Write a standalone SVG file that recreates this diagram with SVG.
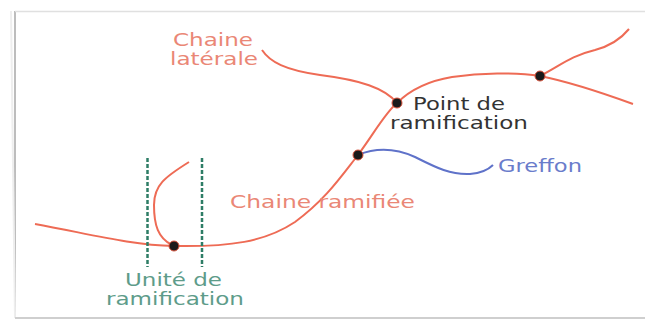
<svg xmlns="http://www.w3.org/2000/svg" width="645" height="320" viewBox="0 0 645 320">
<style>
text{font-family:"DejaVu Sans","Liberation Sans",sans-serif;font-size:17px}
.o{fill:#ea8776}
.k{fill:#333}
.b{fill:#6a7ccb}
.g{fill:#5e9c8a}
.ch{fill:none;stroke:#ee6b55;stroke-width:2}
.gr{fill:none;stroke:#5f72c9;stroke-width:2}
.ds{fill:none;stroke:#2e7d66;stroke-width:2.5;stroke-dasharray:4 2}
.dot{fill:#1a1a1a;stroke:#d8553f;stroke-width:1}
</style>
<rect x="0" y="0" width="645" height="320" fill="#fff"/>
<g id="frame">
<line x1="15" y1="11" x2="15" y2="318" stroke="#bdbdbd" stroke-width="2"/>
<line x1="11" y1="11" x2="15" y2="318" stroke="#eee" stroke-width="2"/>
<line x1="15" y1="11.5" x2="645" y2="11.5" stroke="#e0e0e0" stroke-width="1.5"/>
<line x1="15" y1="318" x2="645" y2="318" stroke="#cfcfcf" stroke-width="2"/>
</g>
<g id="connectors">
<path class="ch" d="M35,224 C90,234 130,245 174,246 C230,247 265,242 295,222 C325,200 340,178 358,155 C375,132 385,113 397,103 C407,93 422,82 452,77 C480,73 515,72 540,76"/>
<path class="ch" d="M540,76 C560,66 570,56 595,50 C610,46 620,40 629,29"/>
<path class="ch" d="M540,76 C570,82 600,92 633,104"/>
<path class="ch" d="M262,50 C270,62 285,70 320,75 C360,80 385,88 397,103"/>
<path class="ch" d="M172,245 C158,238 154,225 154,205 C154,185 165,177 189,162"/>
<path class="gr" d="M358,155 C375,148 395,148 415,157 C435,167 450,175 470,174 C482,173 488,170 493,165"/>
<line class="ds" x1="147.5" y1="158" x2="147.5" y2="267"/>
<line class="ds" x1="202" y1="158" x2="202" y2="267"/>
</g>
<g id="unit-point"><circle class="dot" cx="174" cy="246" r="5"/></g>
<g id="graft-point"><circle class="dot" cx="358" cy="155" r="5"/></g>
<g id="branch-point"><circle class="dot" cx="397" cy="103" r="5"/></g>
<g id="right-point"><circle class="dot" cx="540" cy="76" r="5"/></g>
<g id="label-side-chain">
<text class="o" x="173" y="46" textLength="80" lengthAdjust="spacingAndGlyphs">Chaine</text>
<text class="o" x="170" y="65" textLength="88" lengthAdjust="spacingAndGlyphs">latérale</text>
</g>
<g id="label-branch-point">
<text class="k" x="413" y="110" textLength="92" lengthAdjust="spacingAndGlyphs">Point de</text>
<text class="k" x="390" y="129" textLength="138" lengthAdjust="spacingAndGlyphs">ramification</text>
</g>
<g id="label-graft">
<text class="b" x="498" y="172" textLength="84" lengthAdjust="spacingAndGlyphs">Greffon</text>
</g>
<g id="label-branched-chain">
<text class="o" x="230" y="208" textLength="185" lengthAdjust="spacingAndGlyphs">Chaine ramifiée</text>
</g>
<g id="label-unit">
<text class="g" x="125" y="286" textLength="97" lengthAdjust="spacingAndGlyphs">Unité de</text>
<text class="g" x="106" y="305" textLength="138" lengthAdjust="spacingAndGlyphs">ramification</text>
</g>
</svg>
